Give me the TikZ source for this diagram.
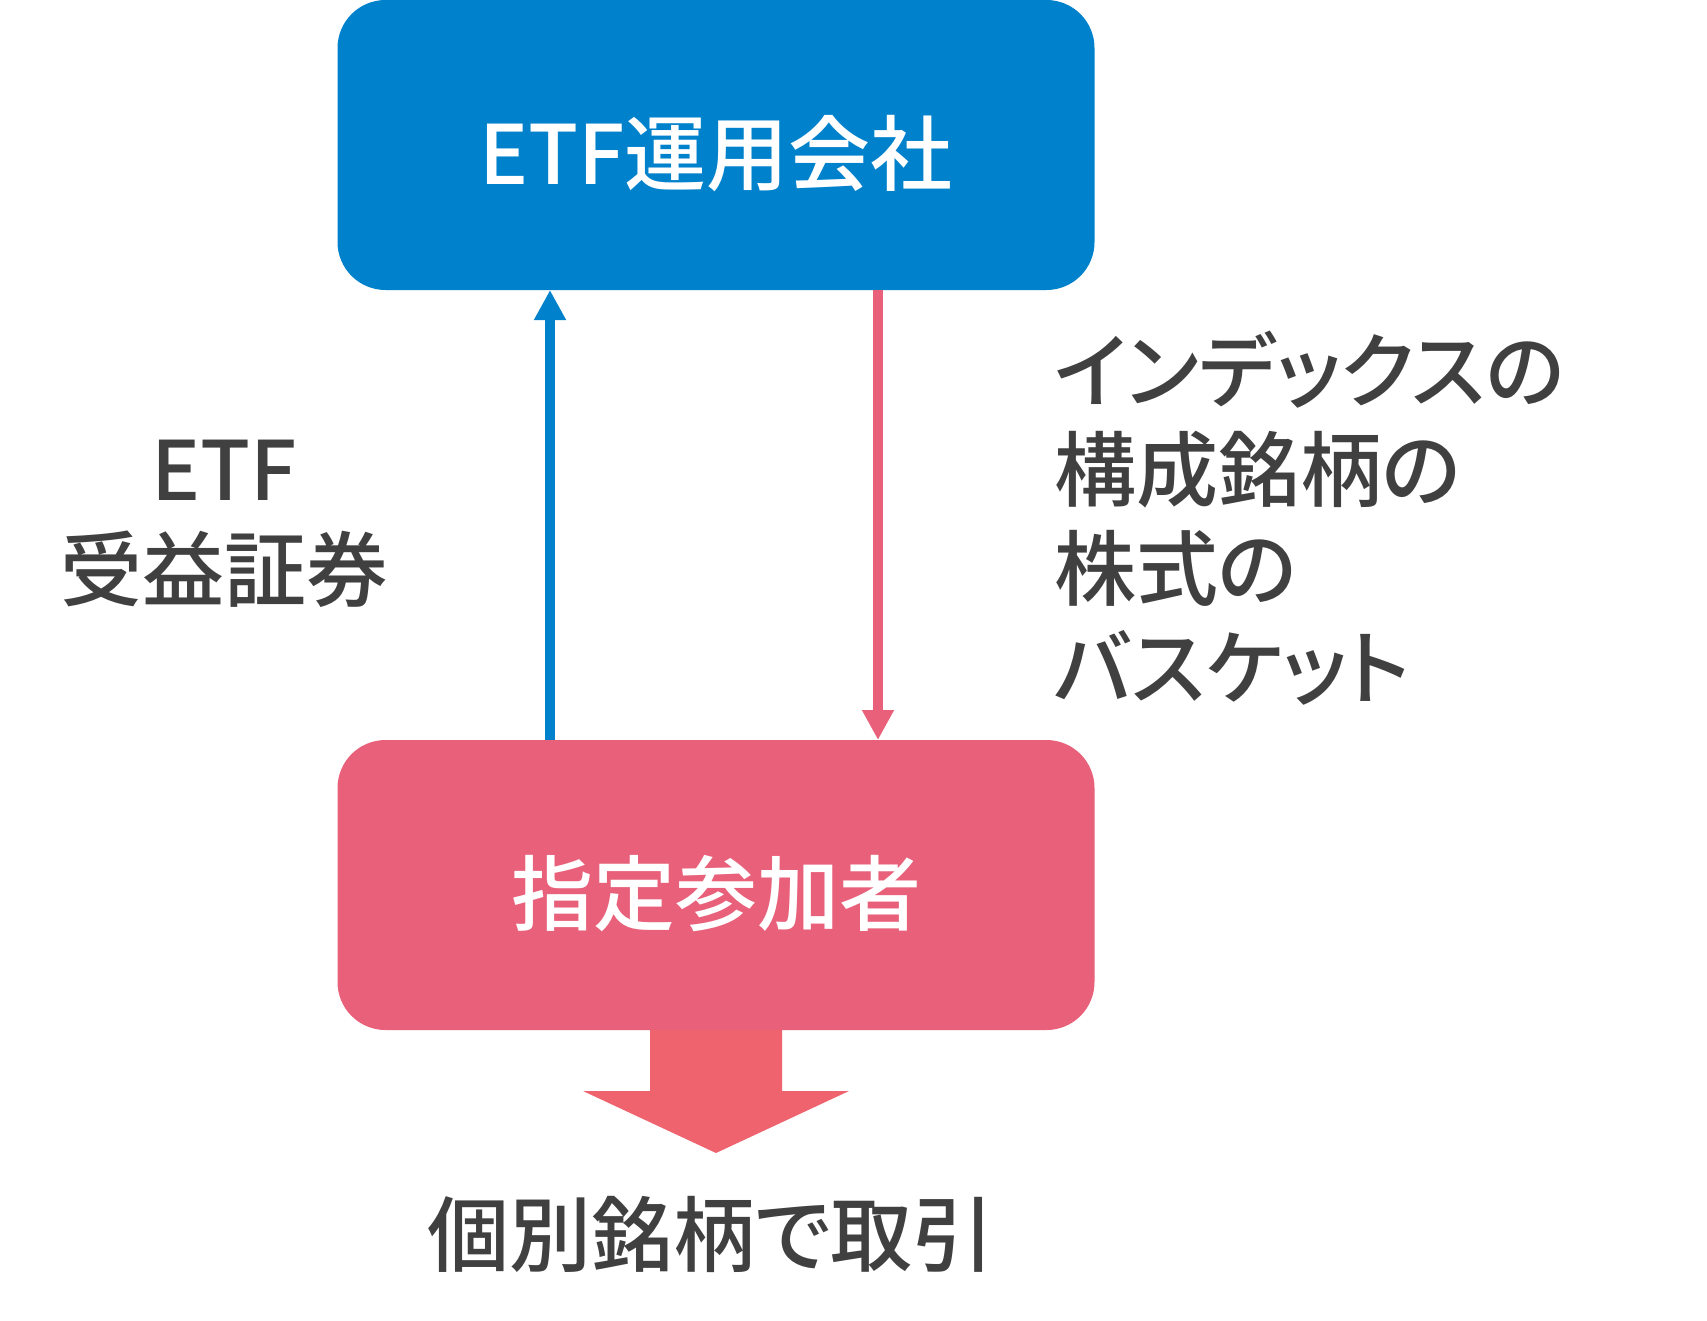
\documentclass[tikz,border=0pt]{standalone}
\usepackage{fontspec}
\setmainfont{Noto Sans CJK JP Medium}[RawFeature=+palt]
\usetikzlibrary{arrows.meta,positioning}
\definecolor{etfblue}{RGB}{0,129,204}
\definecolor{appink}{RGB}{232,96,122}
\definecolor{tradered}{RGB}{239,99,110}
\definecolor{textgray}{RGB}{64,64,64}
\tikzset{
	bigfont/.style={font=\fontsize{82pt}{98.5pt}\selectfont},
	boxnode/.style={bigfont,text=white,rounded corners=48pt,minimum width=757pt,minimum height=290pt,inner sep=0pt,outer sep=0pt,text height=78.7pt,text depth=0pt},
	labelnode/.style={bigfont,text=textgray,inner sep=0pt,anchor=base},
	flow/.style={line width=10pt,-{Triangle[length=30pt,width=30pt]}},
}
\begin{document}
\begin{tikzpicture}[x=1pt,y=-1pt]
	\useasboundingbox (0,0) rectangle (1707,1320);
	%%%%%%%%%%%%%%%%%%%
	%      boxes      %
	%%%%%%%%%%%%%%%%%%%
		\def\boxX{716}
		\node [boxnode,fill=etfblue] (company) at (\boxX,145) {ETF運用会社};
		\node [boxnode,fill=appink] (participant) at (\boxX,885) {指定参加者};
	%%%%%%%%%%%%%%%%%%%
	%      flows      %
	%%%%%%%%%%%%%%%%%%%
		% certificates up
			\draw [flow,etfblue] ([xshift=-166pt]participant.north) -- ([xshift=-166pt]company.south);
			\foreach \y/\txt [count=\i] in {500/ETF,600/受益証券}
				\node [labelnode] (cert-\i) at (224,\y) {\txt};
		% basket down
			\draw [flow,appink] ([xshift=162pt]company.south) -- ([xshift=162pt]participant.north);
			\foreach \y/\txt [count=\i] in {401/インデックスの,500/構成銘柄の,599/株式の,698/バスケット}
				\node [labelnode,anchor=base west] (basket-\i) at (1054,\y) {\txt};
	%%%%%%%%%%%%%%%%%%%
	%      trade      %
	%%%%%%%%%%%%%%%%%%%
		\fill [tradered] ([xshift=-66pt]participant.south) -- ++(0,61) -- ++(-67,0) -- ++(133,62) -- ++(133,-62) -- ++(-67,0) -- ++(0,-61) -- cycle;
		\node [labelnode] (trade) at (711,1265) {個別銘柄で取引};
\end{tikzpicture}
\end{document}
